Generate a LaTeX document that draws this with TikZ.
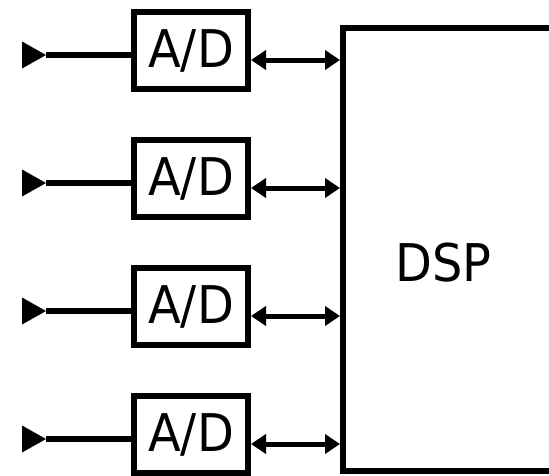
\documentclass[tikz,border=0pt]{standalone}
\usepackage{fontspec}
\setmainfont{DejaVu Sans}[FakeStretch=0.92]
\usetikzlibrary{arrows.meta,calc}
\begin{document}
\begin{tikzpicture}[x=1pt,y=-1pt,
  adbox/.style={draw,line width=6pt,minimum width=114pt,minimum height=77pt,inner sep=0pt,
    font=\fontsize{52}{60}\selectfont,text height=38pt,text depth=4pt},
  dspbox/.style={draw,line width=6pt,minimum width=277pt,minimum height=443pt,inner sep=0pt},
  dsplbl/.style={inner sep=0pt,font=\fontsize{52}{60}\selectfont,text height=38pt,text depth=0pt},
  feed/.style={line width=6pt},
  marker/.style={fill=black},
  link/.style={line width=5pt,{Triangle[length=15pt,width=19pt]}-{Triangle[length=15pt,width=19pt]}}]
\useasboundingbox (0,0) rectangle (549,475);
\clip (0,0) rectangle (549,475);
\node[dspbox] (dsp) at (481.5,249.5) {};
\node[dsplbl] (dsplabel) at (443.5,262.5) {DSP};
\foreach \i in {0,1,2,3}{
  \node[adbox] (ad\i) at (191,50.5+128*\i) {A/D};
  \coordinate (in\i) at (22,55+128*\i);
  \coordinate (tip\i) at (46,55+128*\i);
  \coordinate (bus\i) at (0,60+128*\i);
  \fill[marker] ($(in\i)+(0,-13.5)$) -- (tip\i) -- ($(in\i)+(0,13.5)$) -- cycle;
  \draw[feed] (tip\i) -- (ad\i.west |- tip\i);
  \draw[link] (ad\i.east |- bus\i) -- (dsp.west |- bus\i);
}
\end{tikzpicture}
\end{document}
